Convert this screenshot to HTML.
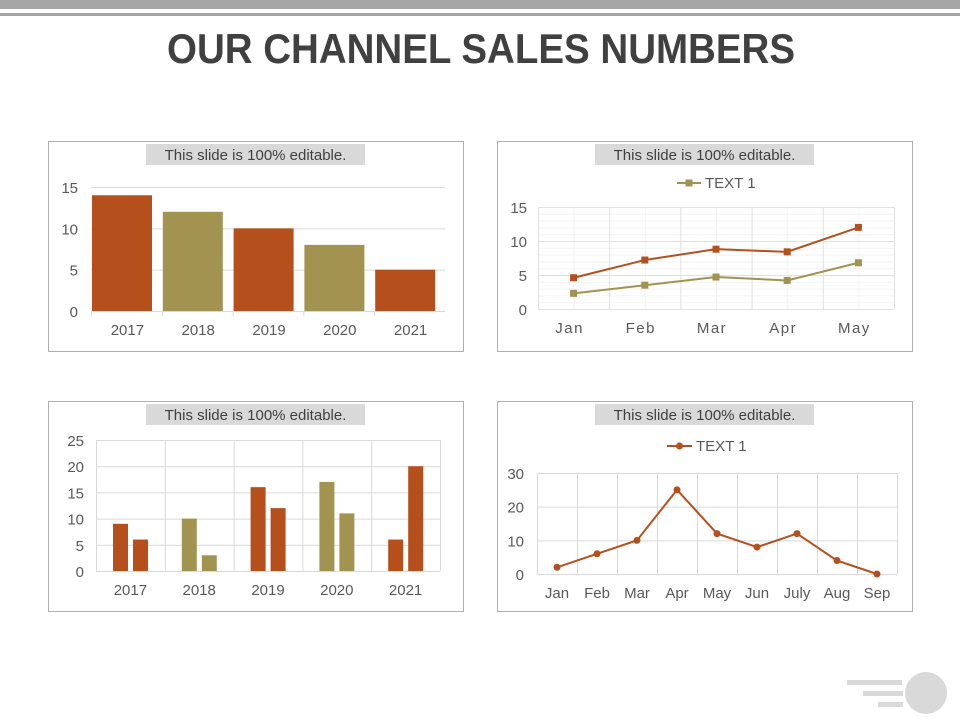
<!DOCTYPE html>
<html><head><meta charset="utf-8"><style>
html,body{margin:0;padding:0;background:#fff;width:960px;height:720px;overflow:hidden}
svg{display:block;font-family:"Liberation Sans",sans-serif}
</style></head><body>
<svg id="s" width="960" height="720" viewBox="0 0 960 720" xmlns="http://www.w3.org/2000/svg">
<rect x="0" y="0" width="960" height="9" fill="#a6a6a6"/>
<rect x="0" y="13" width="960" height="3" fill="#a6a6a6"/>
<text x="481" y="63" text-anchor="middle" font-size="42" font-weight="bold" fill="#404040" textLength="628" lengthAdjust="spacingAndGlyphs">OUR CHANNEL SALES NUMBERS</text>
<g fill="#d9d9d9">
<rect x="847" y="680" width="55" height="5"/><rect x="863" y="691" width="40" height="5"/><rect x="878" y="702" width="25" height="5"/>
<circle cx="926" cy="693" r="21"/>
</g>
<g id="c1"></g><g id="c2"></g><g id="c3"></g><g id="c4"></g>
</svg>
<script>
// Chart 1 data
const c1Cats = ["2017","2018","2019","2020","2021"];
const c1Vals = [14,12,10,8,5];
const c1Ticks = [0,5,10,15];
// Chart 2 data
const c2Cats = ["Jan","Feb","Mar","Apr","May"];
const c2SeriesA = [4.6,7.2,8.8,8.4,12];
const c2SeriesB = [2.3,3.5,4.7,4.2,6.8];
const c2Ticks = [0,5,10,15];
// Chart 3 data
const c3Cats = ["2017","2018","2019","2020","2021"];
const c3Series1 = [9,10,16,17,6];
const c3Series2 = [6,3,12,11,20];
const c3Ticks = [0,5,10,15,20,25];
// Chart 4 data
const c4Cats = ["Jan","Feb","Mar","Apr","May","Jun","July","Aug","Sep"];
const c4Vals = [2,6,10,25,12,8,12,4,0];
const c4Ticks = [0,10,20,30];

const NS="http://www.w3.org/2000/svg";
const OR="#b5501c", OL="#a39351", GR="#d9d9d9", TX="#595959";
function mk(parent,tag,attrs,text){const e=document.createElementNS(NS,tag);for(const k in attrs)e.setAttribute(k,attrs[k]);if(text!==undefined)e.textContent=text;parent.appendChild(e);return e;}
function frame(g,x,y){
  const b=mk(g,'rect',{x:x+0.5,y:y+0.5,width:415,height:210,fill:'#fff',stroke:'#b0b0b0'});
  
  
  const l=mk(g,'rect',{x:x+98,y:y+3,width:219,height:21,fill:'#d9d9d9'});
  
  
  const t=mk(g,'text',{x:x+207.5,y:y+19,'text-anchor':'middle','font-size':15,fill:'#404040'},'This slide is 100% editable.');
  
  
}
function yScale(y0,y1,max){return v=>y0-(v/max)*(y0-y1);}

// Chart 1
(function(){
  const g=document.getElementById('c1');
  
  
  frame(g,48,141);
  const L=91,R=445,y=yScale(311,187,15),cw=(R-L)/c1Cats.length;
  c1Ticks.forEach(t=>{
    mk(g,'line',{x1:L,x2:R,y1:y(t)+0.5,y2:y(t)+0.5,stroke:GR});
    const tl=mk(g,'text',{x:78,y:y(t)+6,'text-anchor':'end','font-size':15,fill:TX},t);
    
    
  });
  c1Cats.forEach((c,i)=>{
    const r=mk(g,'rect',{x:L+i*cw+1,y:y(c1Vals[i]),width:60,height:y(0)-y(c1Vals[i]),fill:i%2?OL:OR});
    
    
    mk(g,'line',{x1:L+i*cw+0.5,x2:L+i*cw+0.5,y1:311,y2:316,stroke:GR});
    const tl=mk(g,'text',{x:L+i*cw+cw/2+1,y:335,'text-anchor':'middle','font-size':15,fill:TX},c);
    
    
  });
})();

// Chart 2
(function(){
  const g=document.getElementById('c2');
  
  
  frame(g,497,141);
  const L=538,R=894,y=yScale(309,207,15),cw=(R-L)/c2Cats.length;
  for(let v=0;v<=15;v+=1)mk(g,'line',{x1:L,x2:R,y1:y(v)+0.5,y2:y(v)+0.5,stroke:'#f2f2f2'});
  for(let i=0;i<=c2Cats.length*2;i++)mk(g,'line',{x1:L+i*cw/2+0.5,x2:L+i*cw/2+0.5,y1:207,y2:309,stroke:i%2?'#f2f2f2':'#e0e0e0'});
  c2Ticks.forEach(t=>{
    mk(g,'line',{x1:L,x2:R,y1:y(t)+0.5,y2:y(t)+0.5,stroke:'#e0e0e0'});
    const tl=mk(g,'text',{x:527,y:y(t)+6,'text-anchor':'end','font-size':15,fill:TX},t);
    
    
  });
  c2Cats.forEach((c,i)=>{
    const tl=mk(g,'text',{x:L+i*cw+cw/2-4,y:333,'text-anchor':'middle','font-size':15,fill:TX,'letter-spacing':'1.5'},c);
    
    
  });
  [[c2SeriesA,OR,'series-a'],[c2SeriesB,OL,'series-b']].forEach(([d,col,n])=>{
    const p=mk(g,'polyline',{points:d.map((v,i)=>(L+i*cw+cw/2)+','+y(v)).join(' '),fill:'none',stroke:col,'stroke-width':2});
    
    
    d.forEach((v,i)=>{
      const m=mk(g,'rect',{x:L+i*cw+cw/2-3.5,y:y(v)-3.5,width:7,height:7,fill:col});
      
      
    });
  });
  mk(g,'line',{x1:677,x2:701,y1:183,y2:183,stroke:OL,'stroke-width':2});
  mk(g,'rect',{x:685.5,y:179.5,width:7,height:7,fill:OL});
  const lt=mk(g,'text',{x:705,y:188,'font-size':15,fill:TX},'TEXT 1');
  
  
})();

// Chart 3
(function(){
  const g=document.getElementById('c3');
  
  
  frame(g,48,401);
  const L=96,R=440,y=yScale(571,440,25),cw=(R-L)/c3Cats.length;
  c3Ticks.forEach(t=>{
    mk(g,'line',{x1:L,x2:R,y1:y(t)+0.5,y2:y(t)+0.5,stroke:GR});
    const tl=mk(g,'text',{x:84,y:y(t)+6,'text-anchor':'end','font-size':15,fill:TX},t);
    
    
  });
  for(let i=0;i<=c3Cats.length;i++)mk(g,'line',{x1:L+i*cw+0.5,x2:L+i*cw+0.5,y1:440,y2:571,stroke:GR});
  c3Cats.forEach((c,i)=>{
    const col=(i%2)?OL:OR;
    const b1=mk(g,'rect',{x:L+i*cw+17,y:y(c3Series1[i]),width:15,height:y(0)-y(c3Series1[i]),fill:col});
    
    
    const b2=mk(g,'rect',{x:L+i*cw+37,y:y(c3Series2[i]),width:15,height:y(0)-y(c3Series2[i]),fill:col});
    
    
    const tl=mk(g,'text',{x:L+i*cw+cw/2,y:595,'text-anchor':'middle','font-size':15,fill:TX},c);
    
    
  });
})();

// Chart 4
(function(){
  const g=document.getElementById('c4');
  
  
  frame(g,497,401);
  const L=537,R=897,y=yScale(574,473,30),cw=(R-L)/c4Cats.length;
  c4Ticks.forEach(t=>{
    mk(g,'line',{x1:L,x2:R,y1:y(t)+0.5,y2:y(t)+0.5,stroke:GR});
    const tl=mk(g,'text',{x:524,y:y(t)+6,'text-anchor':'end','font-size':15,fill:TX},t);
    
    
  });
  for(let i=0;i<=c4Cats.length;i++)mk(g,'line',{x1:L+i*cw+0.5,x2:L+i*cw+0.5,y1:473,y2:574,stroke:GR});
  c4Cats.forEach((c,i)=>{
    const tl=mk(g,'text',{x:L+i*cw+cw/2,y:598,'text-anchor':'middle','font-size':15,fill:TX},c);
    
    
  });
  const p=mk(g,'polyline',{points:c4Vals.map((v,i)=>(L+i*cw+cw/2)+','+y(v)).join(' '),fill:'none',stroke:OR,'stroke-width':2});
  
  
  c4Vals.forEach((v,i)=>{
    const m=mk(g,'circle',{cx:L+i*cw+cw/2,cy:y(v),r:3.5,fill:OR});
    
    
  });
  mk(g,'line',{x1:667,x2:692,y1:446,y2:446,stroke:OR,'stroke-width':2});
  mk(g,'circle',{cx:679.5,cy:446,r:3.5,fill:OR});
  const lt=mk(g,'text',{x:696,y:451,'font-size':15,fill:TX},'TEXT 1');
  
  
})();
</script>
</body></html>
